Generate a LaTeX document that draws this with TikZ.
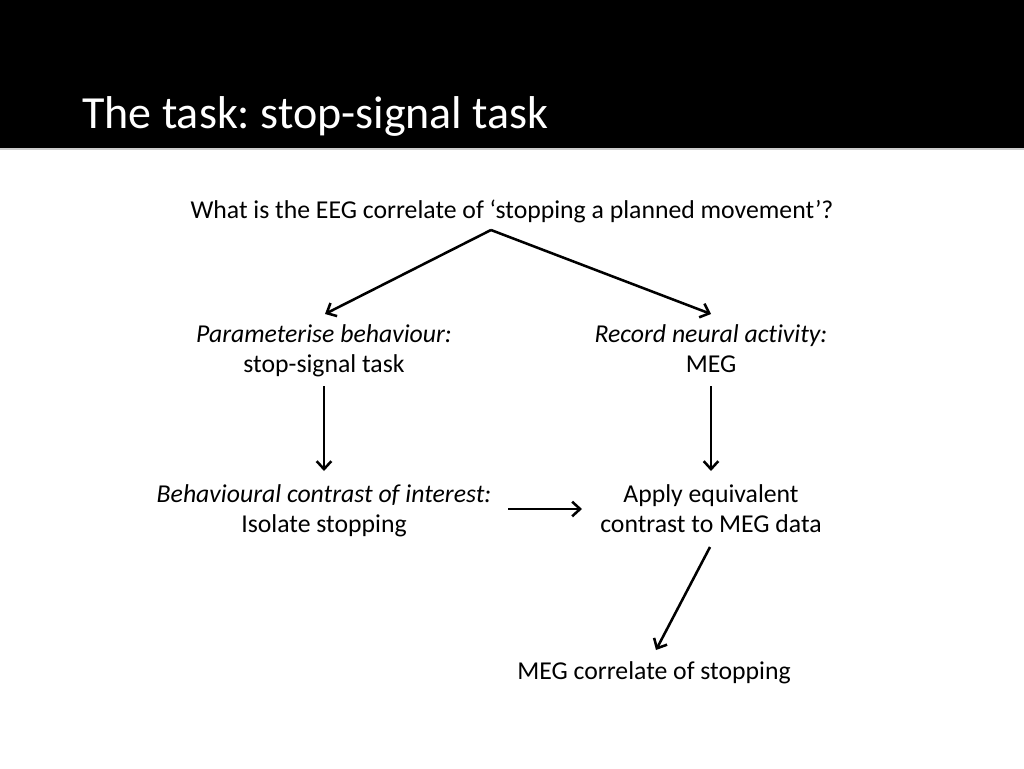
\documentclass[tikz,border=0pt]{standalone}
\usepackage{fontspec}
\setmainfont[Ligatures=NoCommon]{Carlito}
\usetikzlibrary{arrows.meta}
\frenchspacing
\begin{document}
\begin{tikzpicture}[x=0.75pt,y=-0.75pt,
  txt/.style={inner sep=0pt,align=center,font=\fontsize{19.3pt}{22.5pt}\selectfont},
  arr/.style={line width=1.9pt,-{Straight Barb[length=6pt,width=11pt,line width=1.9pt]}}]
\useasboundingbox (0,0) rectangle (1024,768);
\fill[white] (0,0) rectangle (1024,768);
\fill[black] (0,0) rectangle (1024,148);
\draw[gray!40,line width=1pt] (0,149) -- (1024,149);
\node[anchor=base west,inner sep=0pt,text=white,font=\fontsize{34.5pt}{40pt}\selectfont] (title) at (82,128) {The task: stop-signal task};
\node[txt] (q) at (512,212) {\strut What is the EEG correlate of ‘stopping a planned movement’?};
\node[txt] (pb) at (324,351) {\strut\textit{Parameterise behaviour:}\\\strut stop-signal task};
\node[txt] (rn) at (711,351) {\strut\textit{Record neural activity:}\\\strut MEG};
\node[txt] (bc) at (324,511) {\strut\textit{Behavioural contrast of interest:}\\\strut Isolate stopping};
\node[txt] (ae) at (711,511) {\strut Apply equivalent\\\strut contrast to MEG data};
\node[txt] (mc) at (654,673) {\strut MEG correlate of stopping};
\coordinate (qs) at (491,230);
\coordinate (pbt) at (325,314);
\coordinate (rnt) at (711,314);
\coordinate (pbb) at (324,386);
\coordinate (bct) at (324,471);
\coordinate (rnb) at (711,386);
\coordinate (aet) at (711,471);
\coordinate (bcr) at (508,509);
\coordinate (ael) at (582,509);
\coordinate (aeb) at (710,547);
\coordinate (mct) at (656,650);
\draw[arr] (qs) -- (pbt);
\draw[arr] (qs) -- (rnt);
\draw[arr] (pbb) -- (bct);
\draw[arr] (rnb) -- (aet);
\draw[arr] (bcr) -- (ael);
\draw[arr] (aeb) -- (mct);
\end{tikzpicture}
\end{document}
